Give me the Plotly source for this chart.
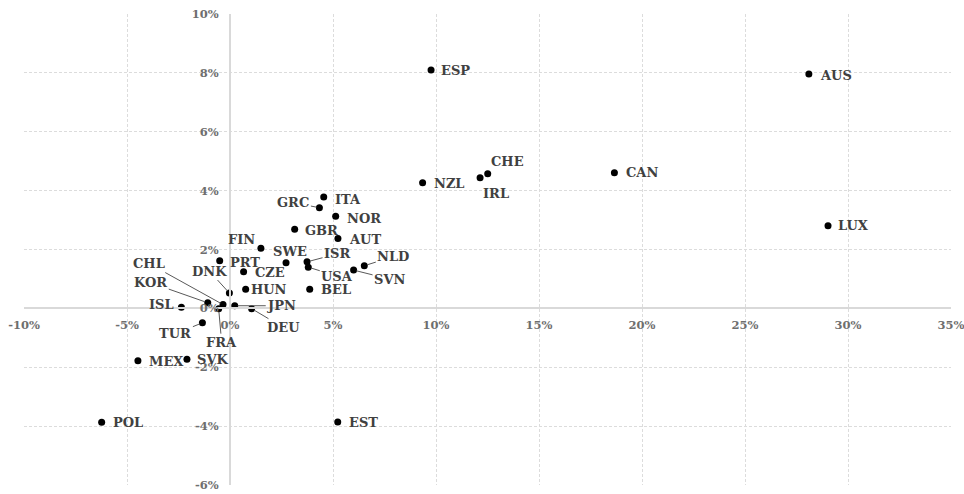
import plotly.graph_objects as go

# ---------------------------
# data (percent)
# ---------------------------
countries = ["ESP", "AUS", "CHE", "IRL", "NZL", "CAN", "LUX", "GRC", "ITA", "NOR",
             "GBR", "AUT", "FIN", "SWE", "ISR", "USA", "NLD", "SVN", "BEL", "HUN",
             "CZE", "PRT", "DNK", "CHL", "KOR", "ISL", "JPN", "DEU", "FRA", "TUR",
             "MEX", "SVK", "POL", "EST"]
x_vals = [9.76, 28.1, 12.51, 12.14, 9.35, 18.66, 29.03, 4.34, 4.55, 5.13,
          3.14, 5.24, 1.50, 2.72, 3.74, 3.80, 6.52, 6.00, 3.87, 0.76,
          0.66, -0.50, -0.03, -0.34, -1.08, -2.36, 0.23, 1.05, -0.55, -1.34,
          -4.47, -2.09, -6.23, 5.23]
y_vals = [8.10, 7.96, 4.57, 4.44, 4.27, 4.61, 2.81, 3.42, 3.78, 3.13,
          2.69, 2.37, 2.04, 1.55, 1.58, 1.40, 1.45, 1.30, 0.65, 0.65,
          1.24, 1.62, 0.52, 0.13, 0.19, 0.04, 0.09, -0.01, -0.01, -0.49,
          -1.78, -1.73, -3.87, -3.86]

x_ticks = [-10, -5, 0, 5, 10, 15, 20, 25, 30, 35]
x_tick_labels = ["-10%", "-5%", "0%", "5%", "10%", "15%", "20%", "25%", "30%", "35%"]
y_ticks = [-6, -4, -2, 0, 2, 4, 6, 8, 10]
y_tick_labels = ["-6%", "-4%", "-2%", "0%", "2%", "4%", "6%", "8%", "10%"]

# label placement: (anchor, dx, dy, leader) in pixels, dy down
label_pos = {
    "ESP": ("left", 8, 1, False), "AUS": ("left", 9, 1, False),
    "CHE": ("center", 20, -12, False), "IRL": ("center", 16, 16, False),
    "NZL": ("left", 9, 1, False), "CAN": ("left", 10, 0, False),
    "LUX": ("left", 8, 0, False), "GRC": ("center", -26, -5, True),
    "ITA": ("left", 9, 2, False), "NOR": ("left", 9, 2, False),
    "GBR": ("left", 8, 1, False), "AUT": ("left", 9, 1, False),
    "FIN": ("center", -19, -9, False), "SWE": ("center", 4, -11, False),
    "ISR": ("center", 30, -8, True), "USA": ("center", 29, 9, True),
    "NLD": ("center", 29, -9, True), "SVN": ("center", 36, 9, True),
    "BEL": ("left", 9, 0, False), "HUN": ("left", 3, 0, False),
    "CZE": ("left", 9, 1, False), "PRT": ("left", 8, 2, False),
    "DNK": ("center", -20, -22, True), "CHL": ("center", -74, -41, True),
    "KOR": ("center", -57, -20, True), "ISL": ("right", -5, -3, False),
    "JPN": ("center", 47, 0, True), "DEU": ("center", 32, 19, True),
    "FRA": ("center", 3, 34, True), "TUR": ("center", -27, 11, True),
    "MEX": ("left", 9, 1, False), "SVK": ("left", 8, 0, False),
    "POL": ("left", 9, 0, False), "EST": ("left", 9, 0, False),
}

label_font = dict(family="DejaVu Serif", size=13, color="#404040", weight="bold")
tick_font = dict(family="DejaVu Serif", size=11.5, color="#6e6e6e", weight="bold")

fig = go.Figure()

fig.add_trace(go.Scatter(
    x=x_vals, y=y_vals,
    mode="markers",
    marker=dict(size=7, color="black"),
    hovertext=countries,
    showlegend=False,
))

annotations = []
for name, xv, yv in zip(countries, x_vals, y_vals):
    anchor, dx, dy, leader = label_pos[name]
    if leader:
        annotations.append(dict(
            x=xv, y=yv, text=name, font=label_font,
            showarrow=True, arrowhead=0, arrowwidth=1, arrowcolor="#595959",
            ax=dx, ay=dy, standoff=3,
        ))
    else:
        annotations.append(dict(
            x=xv, y=yv, text=name, font=label_font,
            showarrow=False, xanchor=anchor, yanchor="middle",
            xshift=dx, yshift=-dy,
        ))

grid = dict(gridcolor="#dcdcdc", griddash="3px,2px", gridwidth=1)

fig.update_layout(
    width=964, height=494,
    margin=dict(l=24, r=13, t=14, b=9),
    paper_bgcolor="white", plot_bgcolor="white",
    annotations=annotations,
    xaxis=dict(
        range=[-10, 35], tickvals=x_ticks, ticktext=x_tick_labels,
        anchor="free", position=6 / 16,
        showline=True, linecolor="#d9d9d9", linewidth=2,
        zeroline=False, ticks="", tickfont=tick_font, automargin=False,
        ticklabelstandoff=6, ticklabeloverflow="allow",
        **grid,
    ),
    yaxis=dict(
        range=[-6, 10], tickvals=y_ticks, ticktext=y_tick_labels,
        anchor="free", position=10 / 45,
        showline=True, linecolor="#d9d9d9", linewidth=2,
        zeroline=False, ticks="", tickfont=tick_font, automargin=False,
        ticklabelstandoff=8, ticklabeloverflow="allow",
        **grid,
    ),
)

# page has a default body margin, drop it so the chart fills the window
fig.write_html("out.html", config={"displayModeBar": False},
               post_script="document.body.style.margin='0';")
